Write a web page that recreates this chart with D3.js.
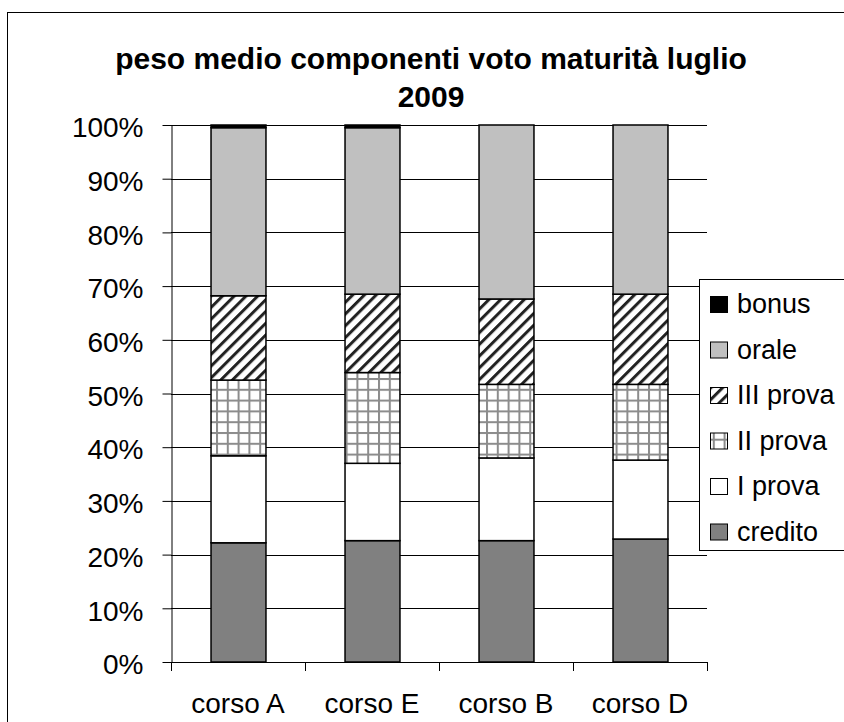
<!DOCTYPE html>
<html>
<head>
<meta charset="utf-8">
<script src="https://cdn.jsdelivr.net/npm/d3@7"></script>
<style>
  body { margin: 0; background: #fff; }
  svg text { font-family: "Liberation Sans", Arial, sans-serif; }
</style>
</head>
<body>
<svg id="chart" width="844" height="722"></svg>
<script>
// Data (percent of final grade)
const courses = ["corso A", "corso E", "corso B", "corso D"];
const components = ["credito", "I prova", "II prova", "III prova", "orale", "bonus"];
const credito = [22.2, 22.6, 22.6, 22.9];
const primaProva = [16.2, 14.4, 15.4, 14.7];
const secondaProva = [14.1, 16.9, 13.7, 14.1];
const terzaProva = [15.7, 14.6, 15.9, 16.8];
const orale = [31.3, 31.0, 32.4, 31.5];
const bonus = [0.5, 0.5, 0.0, 0.0];
const yTicks = [0, 10, 20, 30, 40, 50, 60, 70, 80, 90, 100];

const seriesValues = [credito, primaProva, secondaProva, terzaProva, orale, bonus];
const rows = courses.map((c, i) => {
  const r = { course: c };
  components.forEach((k, j) => r[k] = seriesValues[j][i]);
  return r;
});

const svg = d3.select("#chart");
const margin = { left: 171, right: 707, top: 125, bottom: 662 };

// Patterns
const defs = svg.append("defs");
const hatch = defs.append("pattern")
  .attr("id", "hatch")
  .attr("patternUnits", "userSpaceOnUse")
  .attr("width", 8.3).attr("height", 8.3)
  .attr("patternTransform", "rotate(45)");
hatch.append("rect").attr("width", 8.3).attr("height", 8.3).attr("fill", "#fff");
hatch.append("rect").attr("x", 0).attr("y", 0).attr("width", 3).attr("height", 8.3).attr("fill", "#222");

const grid = defs.append("pattern")
  .attr("id", "grid")
  .attr("patternUnits", "userSpaceOnUse")
  .attr("width", 10.8).attr("height", 10.8);
grid.append("rect").attr("width", 10.8).attr("height", 10.8).attr("fill", "#fff");
grid.append("rect").attr("x", 0).attr("y", 0).attr("width", 10.8).attr("height", 2).attr("fill", "#8c8c8c");
grid.append("rect").attr("x", 0).attr("y", 0).attr("width", 2).attr("height", 10.8).attr("fill", "#8c8c8c");

const fills = {
  "credito": "#808080",
  "I prova": "#fff",
  "II prova": "url(#grid)",
  "III prova": "url(#hatch)",
  "orale": "#c0c0c0",
  "bonus": "#000"
};

// Outer border
svg.append("rect")
  .attr("x", 7.5).attr("y", 12.5)
  .attr("width", 850).attr("height", 720)
  .attr("fill", "none").attr("stroke", "#000");

// Scales
const x = d3.scaleBand().domain(courses).range([margin.left, margin.right]).paddingInner(0.59).paddingOuter(0.295);
const y = d3.scaleLinear().domain([0, 100]).range([margin.bottom, margin.top]);

// Gridlines
svg.append("g")
  .selectAll("line")
  .data(yTicks.filter(d => d > 0))
  .join("line")
  .attr("x1", margin.left).attr("x2", margin.right)
  .attr("y1", d => Math.round(y(d)) + 0.5).attr("y2", d => Math.round(y(d)) + 0.5)
  .attr("stroke", "#000");

// Axes
const yAxis = d3.axisLeft(y).tickValues(yTicks).tickFormat(d => d + "%").tickSize(9).tickSizeOuter(0);
const gy = svg.append("g").attr("transform", `translate(${margin.left + 0.5},0)`).call(yAxis);
gy.attr("font-family", null);
gy.select(".domain").attr("stroke", "#000");
gy.selectAll("line").attr("stroke", "#000");
gy.selectAll("text")
  .attr("font-size", 28)
  .attr("fill", "#000")
  .attr("x", -28)
  .attr("dy", "0.42em");

const xTickScale = d3.scaleLinear().domain([0, 4]).range([margin.left, margin.right]);
svg.append("g")
  .selectAll("line")
  .data(d3.range(5))
  .join("line")
  .attr("x1", d => Math.round(xTickScale(d)) + 0.5).attr("x2", d => Math.round(xTickScale(d)) + 0.5)
  .attr("y1", margin.bottom).attr("y2", margin.bottom + 9)
  .attr("stroke", "#000");
svg.append("line")
  .attr("x1", margin.left).attr("x2", margin.right)
  .attr("y1", margin.bottom + 0.5).attr("y2", margin.bottom + 0.5)
  .attr("stroke", "#000");

svg.append("g")
  .selectAll("text")
  .data(courses)
  .join("text")
  .attr("x", d => x(d) + x.bandwidth() / 2)
  .attr("y", 713)
  .attr("text-anchor", "middle")
  .attr("font-size", 28)
  .text(d => d);

// Stacked bars
const stack = d3.stack().keys(components);
const layers = stack(rows);
svg.append("g")
  .selectAll("g")
  .data(layers)
  .join("g")
  .attr("fill", d => fills[d.key])
  .selectAll("rect")
  .data(d => d.filter(s => s[1] - s[0] > 0))
  .join("rect")
  .attr("x", d => x(d.data.course) + 0.5)
  .attr("y", d => y(d[1]))
  .attr("width", x.bandwidth())
  .attr("height", d => y(d[0]) - y(d[1]))
  .attr("stroke", "#000")
  .attr("stroke-width", 1.5);

// Title
const title = svg.append("text")
  .attr("text-anchor", "middle")
  .attr("font-size", 30)
  .attr("font-weight", "bold");
title.append("tspan").attr("x", 431).attr("y", 69).text("peso medio componenti voto maturità luglio");
title.append("tspan").attr("x", 431).attr("y", 107).text("2009");

// Legend
const legend = svg.append("g");
legend.append("rect")
  .attr("x", 699.5).attr("y", 279.5)
  .attr("width", 160).attr("height", 271)
  .attr("fill", "#fff").attr("stroke", "#000");

const legendKeys = components.slice().reverse();
const item = legend.selectAll("g")
  .data(legendKeys)
  .join("g")
  .attr("transform", (d, i) => `translate(0,${313 + i * 45.5})`);
item.append("rect")
  .attr("x", 710.5).attr("y", -16.5)
  .attr("width", 17).attr("height", 16)
  .attr("fill", d => fills[d])
  .attr("stroke", "#000");
item.append("text")
  .attr("x", 737)
  .attr("y", 0)
  .attr("font-size", 27)
  .text(d => d);
</script>
</body>
</html>
